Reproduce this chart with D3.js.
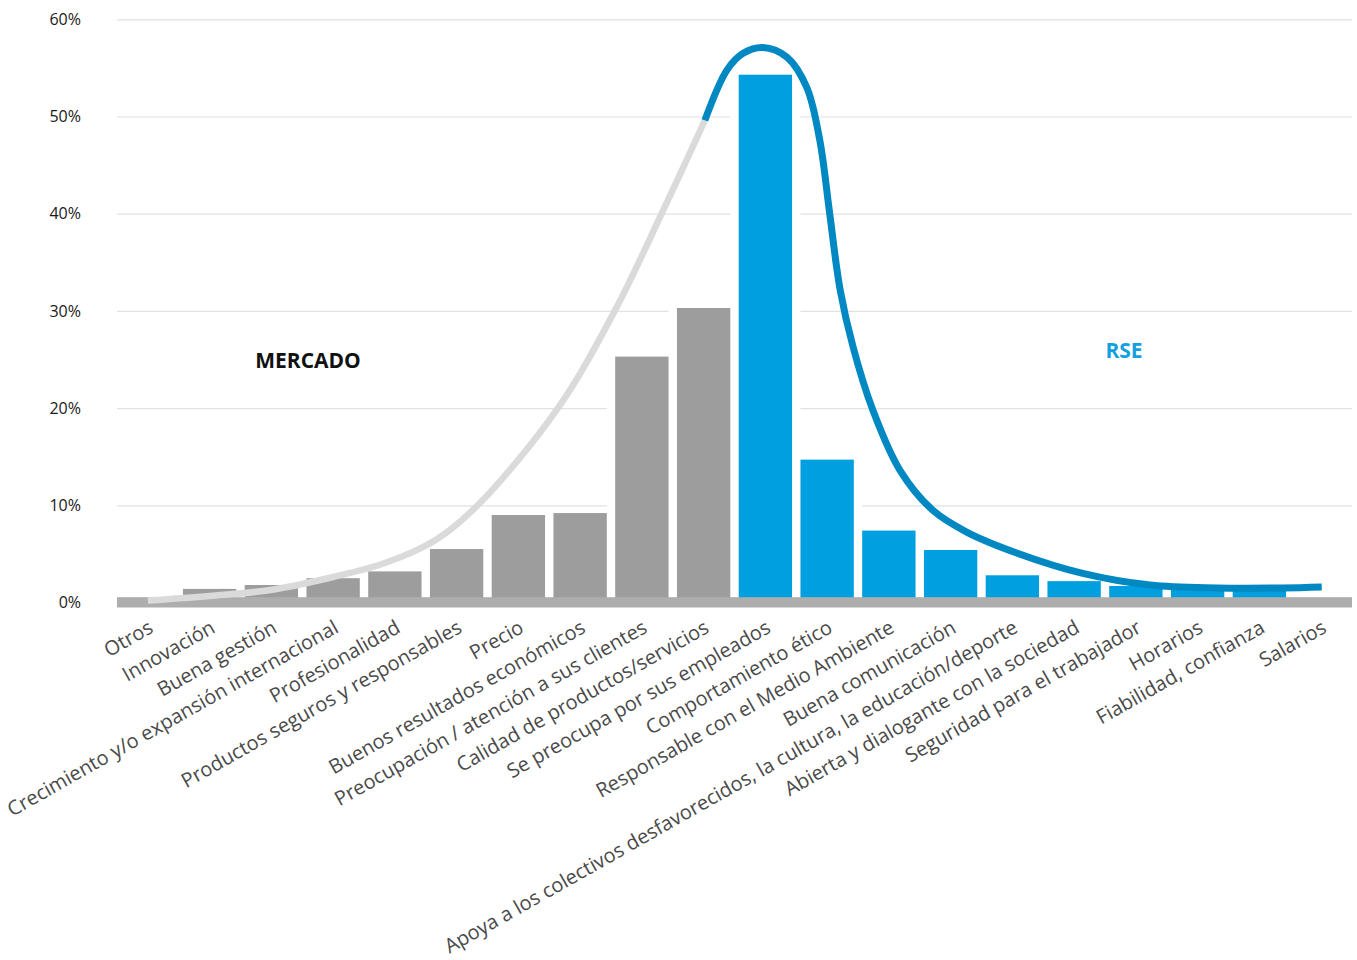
<!DOCTYPE html>
<html>
<head>
<meta charset="utf-8">
<script src="https://cdn.jsdelivr.net/npm/d3@7"></script>
<style>
  html, body { margin: 0; padding: 0; background: #fff; }
  svg { display: block; }
</style>
</head>
<body>
<svg id="chart" width="1357" height="960"></svg>
<script>
// Attributes valued by respondents, ordered from market-driven to CSR-driven
const categories = [
  "Otros", "Innovación", "Buena gestión", "Crecimiento y/o expansión internacional",
  "Profesionalidad", "Productos seguros y responsables", "Precio",
  "Buenos resultados económicos", "Preocupación / atención a sus clientes",
  "Calidad de productos/servicios", "Se preocupa por sus empleados",
  "Comportamiento ético", "Responsable con el Medio Ambiente", "Buena comunicación",
  "Apoya a los colectivos desfavorecidos, la cultura, la educación/deporte",
  "Abierta y dialogante con la sociedad", "Seguridad para el trabajador",
  "Horarios", "Fiabilidad, confianza", "Salarios"
];
// Share of mentions (%)
const values = [0.3, 1.4, 1.8, 2.5, 3.2, 5.5, 9.0, 9.2, 25.3, 30.3,
                54.3, 14.7, 7.4, 5.4, 2.8, 2.2, 1.7, 1.3, 1.2, 0.4];
// Group of each attribute
const groups = ["MERCADO","MERCADO","MERCADO","MERCADO","MERCADO","MERCADO","MERCADO","MERCADO","MERCADO","MERCADO",
                "RSE","RSE","RSE","RSE","RSE","RSE","RSE","RSE","RSE","RSE"];
const yTicks = [0, 10, 20, 30, 40, 50, 60];

// Trend curve: position along the category axis (index) and level (%)
const mercadoCurveIdx = [0, 1.0, 1.99, 3.0, 3.84, 4.66, 5.34, 6.64, 7.56, 8.32, 9.02];
const mercadoCurveVal = [0.2, 0.67, 1.29, 2.62, 4.06, 6.43, 10.0, 20.0, 30.0, 40.0, 49.6];
const rseCurveIdx = [9.02, 9.38, 9.64, 9.96, 10.35, 10.67, 10.88, 11.04, 11.21, 11.42, 11.74,
                     12.18, 12.71, 13.26, 14.07, 15.14, 16.23, 17.31, 18.38, 19.01];
const rseCurveVal = [49.6, 54.8, 56.5, 57.1, 56.1, 53.0, 47.6, 40.1, 32.2, 26.3, 19.8,
                     13.6, 9.5, 7.25, 5.1, 3.0, 1.8, 1.5, 1.5, 1.6];

const colors = {
  MERCADO: "#9d9d9d",
  RSE: "#009fe0",
  curveMercado: "#dadada",
  curveRse: "#0088c2",
  grid: "#e2e2e2",
  base: "#adadad",
  text: "#4a4a4a"
};

const svg = d3.select("#chart");
const x0 = 117, x1 = 1352;

const x = d3.scaleBand().domain(categories).range([x0, x1])
  .paddingInner(0.136).paddingOuter(0.068);
const y = d3.scaleLinear().domain([0, 60]).range([602.5, 19.3]);
const step = x.step();
const gap = step - x.bandwidth();
const idxToX = i => x(categories[0]) + x.bandwidth() / 2 + i * step;

// Horizontal gridlines
svg.append("g")
  .attr("transform", `translate(${x0},0)`)
  .call(d3.axisLeft(y).tickValues(yTicks.slice(1)).tickSize(-(x1 - x0)).tickFormat(""))
  .call(g => g.select(".domain").remove())
  .call(g => g.selectAll("line").attr("stroke", colors.grid).attr("stroke-width", 1.2));

// Y tick labels
svg.append("g")
  .attr("transform", `translate(${x0},0)`)
  .call(d3.axisLeft(y).tickValues(yTicks).tickSize(0).tickPadding(36).tickFormat(d => d + "%"))
  .call(g => g.select(".domain").remove())
  .call(g => g.selectAll("text")
    .attr("font-family", "'Open Sans', sans-serif")
    .attr("font-size", 16)
    .attr("fill", "#1a1a1a"));

const data = categories.map((c, i) => ({ c, v: values[i], g: groups[i] }));

// White backing so gridlines break around each column
svg.append("g").selectAll("rect").data(data).join("rect")
  .attr("x", d => x(d.c) - gap)
  .attr("width", x.bandwidth() + 2 * gap)
  .attr("y", d => y(d.v))
  .attr("height", d => y(0) - y(d.v))
  .attr("fill", "#fff");

// Columns
svg.append("g").selectAll("rect").data(data).join("rect")
  .attr("x", d => x(d.c))
  .attr("width", x.bandwidth())
  .attr("y", d => y(d.v))
  .attr("height", d => y(0) - y(d.v))
  .attr("fill", d => colors[d.g]);

// Base band along 0%
svg.append("rect")
  .attr("x", x0).attr("width", x1 - x0)
  .attr("y", y(0) - 5.3).attr("height", 10.3)
  .attr("fill", colors.base);

// Trend curve
const line = d3.line()
  .x(d => idxToX(d[0]))
  .y(d => y(d[1]))
  .curve(d3.curveCatmullRom.alpha(0.5));

svg.append("path")
  .attr("d", line(d3.zip(mercadoCurveIdx, mercadoCurveVal)))
  .attr("fill", "none")
  .attr("stroke", colors.curveMercado)
  .attr("stroke-width", 6.5)
  .attr("stroke-linecap", "butt");

svg.append("path")
  .attr("d", line(d3.zip(rseCurveIdx, rseCurveVal)))
  .attr("fill", "none")
  .attr("stroke", colors.curveRse)
  .attr("stroke-width", 7)
  .attr("stroke-linecap", "butt");

// Category labels
svg.append("g").selectAll("text").data(categories).join("text")
  .attr("transform", c => `translate(${x(c) + x.bandwidth() / 2 - 1},618) rotate(-29.5)`)
  .attr("text-anchor", "end")
  .attr("dy", "0.78em")
  .attr("font-family", "'Open Sans', sans-serif")
  .attr("font-size", 20)
  .attr("fill", colors.text)
  .text(c => c);

// Group labels
svg.append("text")
  .attr("x", 308).attr("y", 368)
  .attr("text-anchor", "middle")
  .attr("font-family", "'Open Sans', sans-serif")
  .attr("font-weight", "bold")
  .attr("font-size", 21)
  .attr("fill", "#111")
  .text("MERCADO");

svg.append("text")
  .attr("x", 1124).attr("y", 358)
  .attr("text-anchor", "middle")
  .attr("font-family", "'Open Sans', sans-serif")
  .attr("font-weight", "bold")
  .attr("font-size", 21)
  .attr("fill", "#139fe0")
  .text("RSE");
</script>
</body>
</html>
